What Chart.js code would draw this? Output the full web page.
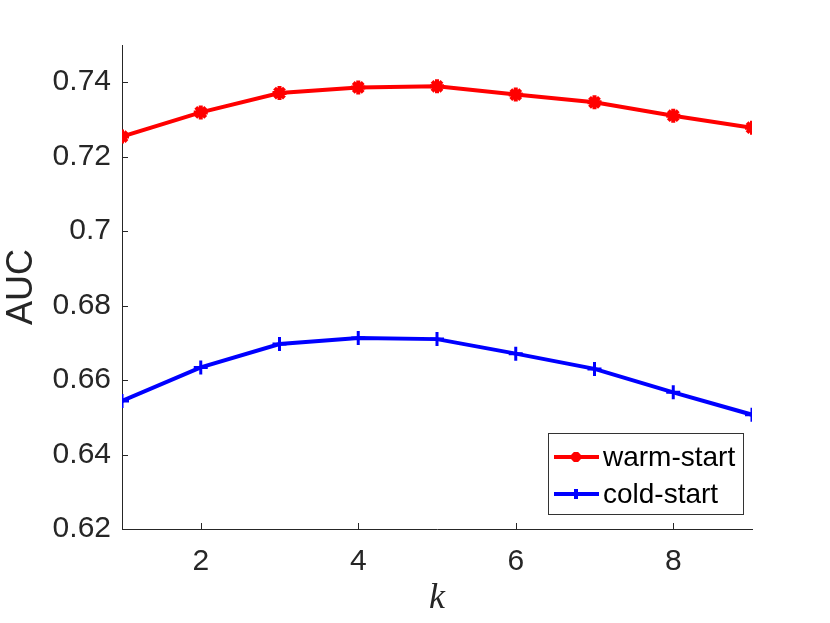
<!DOCTYPE html>
<html>
<head>
<meta charset="utf-8">
<script src="https://cdn.jsdelivr.net/npm/chart.js@4.4.1/dist/chart.umd.min.js"></script>
<style>
  html, body { margin: 0; padding: 0; background: #fff; }
  #wrap { width: 830px; height: 623px; }
</style>
</head>
<body>
<div id="wrap"><canvas id="chart" width="830" height="623"></canvas></div>
<script>
const kValues = [1, 2, 3, 4, 5, 6, 7, 8, 9];
const warmStart = [0.7254, 0.7319, 0.7371, 0.7386, 0.7389, 0.7367, 0.7346, 0.7310, 0.7278];
const coldStart = [0.6544, 0.6634, 0.6697, 0.6713, 0.6710, 0.6671, 0.6630, 0.6567, 0.6507];
const xTicks = [2, 4, 6, 8];
const yTicks = [0.62, 0.64, 0.66, 0.68, 0.7, 0.72, 0.74];

const axisColor = "#262626";
const font = "Liberation Sans, Arial, Helvetica, sans-serif";

const toPoints = (ys) => ys.map((y, i) => ({ x: kValues[i], y }));

// MATLAB style inward ticks, drawn from the scales
const innerTicks = {
    id: "innerTicks",
    afterDraw(chart) {
        const { ctx, chartArea, scales } = chart;
        ctx.save();
        ctx.strokeStyle = axisColor;
        ctx.lineWidth = 1;
        xTicks.forEach((t) => {
            const px = Math.round(scales.x.getPixelForValue(t)) + 0.5;
            ctx.beginPath();
            ctx.moveTo(px, chartArea.bottom);
            ctx.lineTo(px, chartArea.bottom - 6);
            ctx.stroke();
        });
        yTicks.forEach((t) => {
            const py = Math.round(scales.y.getPixelForValue(t)) + 0.5;
            ctx.beginPath();
            ctx.moveTo(chartArea.left, py);
            ctx.lineTo(chartArea.left + 6, py);
            ctx.stroke();
        });
        ctx.restore();
    }
};

// legend box in the lower right corner of the axes
const boxLegend = {
    id: "boxLegend",
    afterDraw(chart) {
        const { ctx, chartArea } = chart;
        const w = 195, h = 81;
        const x0 = chartArea.right - 9 - w;
        const y0 = chartArea.bottom - 15 - h;
        ctx.save();
        ctx.fillStyle = "#fff";
        ctx.fillRect(x0, y0, w, h);
        ctx.strokeStyle = "#333";
        ctx.lineWidth = 1;
        ctx.strokeRect(x0 + 0.5, y0 + 0.5, w, h);
        chart.data.datasets.forEach((ds, i) => {
            const cy = y0 + 24 + i * 37;
            ctx.strokeStyle = ds.borderColor;
            ctx.fillStyle = ds.borderColor;
            ctx.lineWidth = 4;
            ctx.beginPath();
            ctx.moveTo(x0 + 6, cy);
            ctx.lineTo(x0 + 51, cy);
            ctx.stroke();
            Chart.helpers.drawPoint(ctx, {
                pointStyle: ds.pointStyle,
                radius: ds.pointRadius - 2,
                borderWidth: ds.pointBorderWidth
            }, x0 + 28, cy);
            ctx.fillStyle = "#000";
            ctx.font = "28px " + font;
            ctx.textBaseline = "middle";
            ctx.textAlign = "left";
            ctx.fillText(ds.label, x0 + 55, cy + 1);
        });
        ctx.restore();
    }
};

new Chart(document.getElementById("chart"), {
    type: "line",
    data: {
        datasets: [
            {
                label: "warm-start",
                data: toPoints(warmStart),
                borderColor: "#ff0000",
                backgroundColor: "#ff0000",
                borderWidth: 4,
                pointStyle: "star",
                pointRadius: 7,
                pointBorderWidth: 4,
                pointBorderColor: "#ff0000",
                pointBackgroundColor: "#ff0000",
                tension: 0
            },
            {
                label: "cold-start",
                data: toPoints(coldStart),
                borderColor: "#0000ff",
                backgroundColor: "#0000ff",
                borderWidth: 4,
                pointStyle: "cross",
                pointRadius: 7,
                pointBorderWidth: 3,
                pointBorderColor: "#0000ff",
                pointBackgroundColor: "#0000ff",
                tension: 0
            }
        ]
    },
    options: {
        responsive: false,
        animation: false,
        layout: { padding: { left: 0, top: 45, right: 78, bottom: 0 } },
        plugins: {
            legend: { display: false },
            tooltip: { enabled: false }
        },
        scales: {
            x: {
                type: "linear",
                min: 1,
                max: 9,
                afterBuildTicks: (s) => { s.ticks = xTicks.map((v) => ({ value: v })); },
                afterFit: (s) => { s.height = 94; },
                grid: { display: false, drawTicks: false },
                border: { display: true, color: axisColor, width: 1 },
                ticks: {
                    color: axisColor,
                    font: { family: font, size: 30 },
                    padding: 15,
                    maxRotation: 0
                },
                title: {
                    display: true,
                    text: "k",
                    color: axisColor,
                    font: { family: "Liberation Serif, DejaVu Serif, serif", size: 36, style: "italic" },
                    padding: { top: 0, bottom: 3 }
                }
            },
            y: {
                min: 0.62,
                max: 0.75,
                afterBuildTicks: (s) => { s.ticks = yTicks.map((v) => ({ value: v })); },
                afterFit: (s) => { s.width = 122; },
                grid: { display: false, drawTicks: false },
                border: { display: true, color: axisColor, width: 1 },
                ticks: {
                    color: axisColor,
                    font: { family: font, size: 30 },
                    padding: 11,
                    callback: (v) => String(Number(v.toFixed(2)))
                },
                title: {
                    display: true,
                    text: "AUC",
                    color: axisColor,
                    font: { family: font, size: 36 },
                    padding: { top: 0, bottom: 0 }
                }
            }
        }
    },
    plugins: [innerTicks, boxLegend]
});
</script>
</body>
</html>
